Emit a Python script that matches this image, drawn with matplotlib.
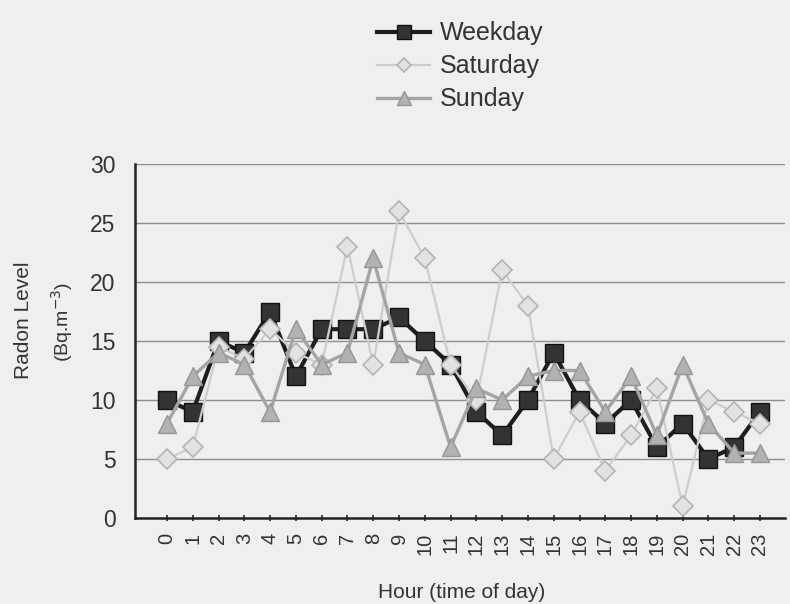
import matplotlib
matplotlib.use("Agg")
import matplotlib.pyplot as plt

hours = [str(h) for h in range(24)]
weekday = [10, 9, 15, 14, 17.5, 12, 16, 16, 16, 17, 15, 13, 9, 7, 10, 14, 10, 8, 10, 6, 8, 5, 6, 9]
saturday = [5, 6, 14.5, 13.5, 16, 14, 13, 23, 13, 26, 22, 13, 10, 21, 18, 5, 9, 4, 7, 11, 1, 10, 9, 8]
sunday = [8, 12, 14, 13, 9, 16, 13, 14, 22, 14, 13, 6, 11, 10, 12, 12.5, 12.5, 9, 12, 7, 13, 8, 5.5, 5.5]
yticks = [0, 5, 10, 15, 20, 25, 30]

bg = "#efefef"
txt = "#333333"
plt.rcParams['font.family'] = ['Liberation Sans', 'DejaVu Sans']

fig = plt.figure(figsize=(7.9, 6.04), dpi=100, facecolor=bg)
ax = fig.add_axes([135/790, 1-518/604, 650/790, 354/604], facecolor=bg)

x = list(range(len(hours)))
l1, = ax.plot(x, weekday, color="#1e1e1e", lw=3.0, marker="s", markersize=12.5,
              markerfacecolor="#333333", markeredgecolor="#111111", label="Weekday", zorder=3)
l2, = ax.plot(x, saturday, color="#cdcdcd", lw=1.6, marker="D", markersize=10,
              markerfacecolor="#e2e2e2", markeredgecolor="#b4b4b4", markeredgewidth=1.2,
              label="Saturday", zorder=4)
l3, = ax.plot(x, sunday, color="#a4a4a4", lw=2.4, marker="^", markersize=12.5,
              markerfacecolor="#b2b2b2", markeredgecolor="#959595", label="Sunday", zorder=5)

ax.set_xlim(-1.24, 23.97)
ax.set_ylim(0, 30)
ax.set_yticks(yticks)
ax.set_xticks(x)
ax.set_xticklabels(hours, rotation=90, fontsize=14.5)
ax.tick_params(axis='y', labelsize=16.5, length=0, pad=14)
ax.tick_params(axis='x', length=5, width=1.2, direction='inout', colors="#222222", pad=8)
for lab in ax.get_xticklabels() + ax.get_yticklabels():
    lab.set_color(txt)
ax.grid(axis='y', color="#8e8e8e", lw=1.0)
ax.set_axisbelow(True)
for s in ['top', 'right']:
    ax.spines[s].set_visible(False)
for s in ['left', 'bottom']:
    ax.spines[s].set_linewidth(1.8)
    ax.spines[s].set_color("#222222")

fig.text(462/790, 1-592/604, "Hour (time of day)", fontsize=15, color=txt,
         ha='center', va='center')
fig.text(24/790, 1-320/604, "Radon Level", fontsize=15, color=txt,
         ha='center', va='center', rotation=90)
fig.text(62/790, 1-322/604, "(Bq.m$^{-3}$)", fontsize=14, color=txt,
         ha='center', va='center', rotation=90)

fig.legend(handles=[l1, l2, l3], loc='upper left', bbox_to_anchor=(356/790, 1.0),
           frameon=False, fontsize=18, handlelength=2.1, labelspacing=0.36,
           handletextpad=0.4, markerscale=0.75, borderpad=0.35)
for t in fig.legends[0].get_texts():
    t.set_color(txt)

fig.savefig("out.png", dpi=100, facecolor=bg)
